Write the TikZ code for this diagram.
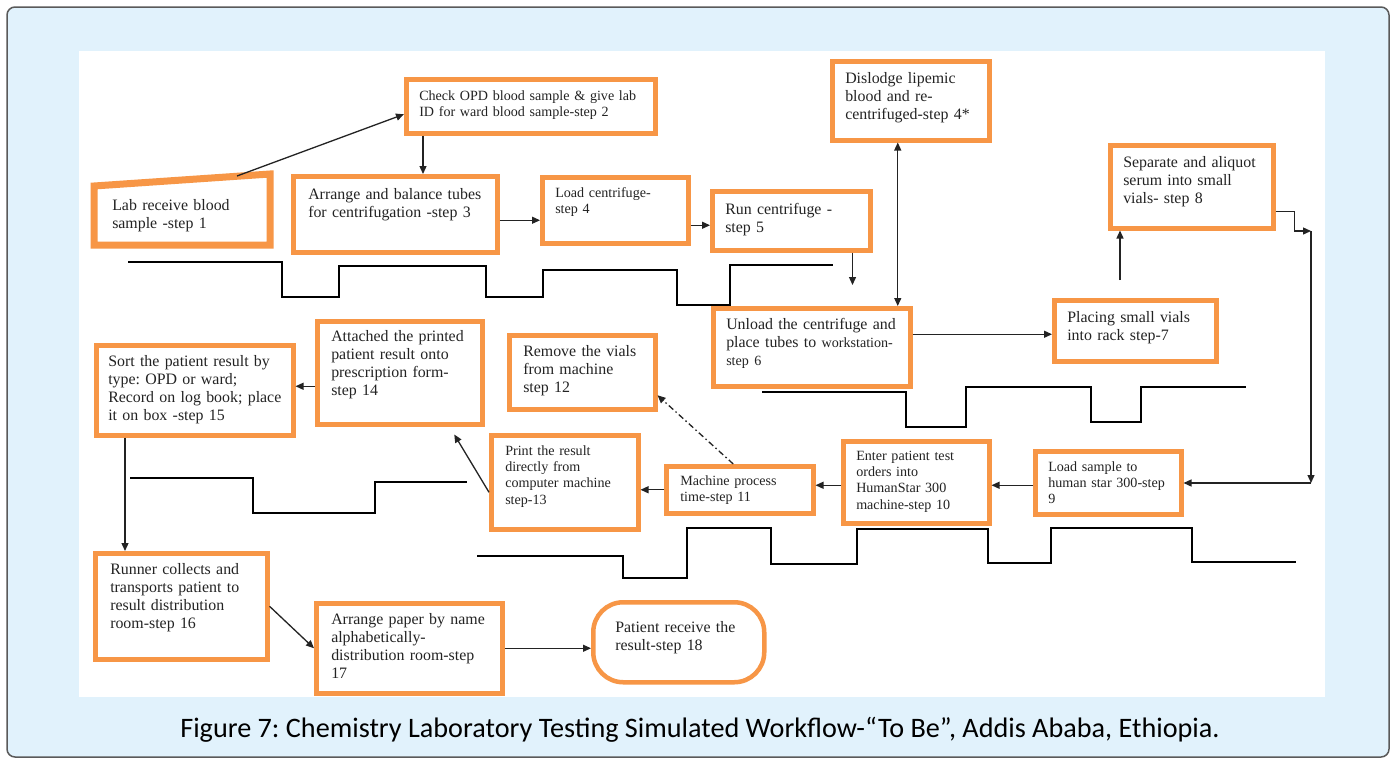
\documentclass[tikz,border=0pt]{standalone}
\usepackage{fontspec}
\setmainfont{Liberation Serif}
\newfontfamily\capfont{Carlito}
\usetikzlibrary{arrows.meta, calc}
\frenchspacing

\definecolor{boxorange}{RGB}{247,150,70}
\definecolor{panelblue}{RGB}{225,242,252}
\definecolor{framegray}{RGB}{90,90,90}
\definecolor{inkgray}{RGB}{35,35,35}

\newcommand{\normaltxt}{\fontsize{15.9}{18.2}\selectfont}
\newcommand{\smalltxt}{\fontsize{14.1}{16.3}\selectfont}

\begin{document}
\begin{tikzpicture}[
    x=1pt, y=-1pt,
    >={Triangle[length=8pt,width=7pt]},
    stepbox/.style={
        draw=boxorange, line width=4.5pt, fill=white,
        anchor=north west, align=left,
        inner xsep=13pt, inner ysep=0pt, text height=21pt,
        font=\normaltxt, text=inkgray
    },
    smallbox/.style={stepbox, font=\smalltxt},
    arrow/.style={->, line width=1.3pt, draw=inkgray},
    wave/.style={line width=1.3pt, draw=black}
]
\useasboundingbox (0,0) rectangle (1392,764);

% Page background and white panel
\fill[white] (0,0) rectangle (1392,764);
\draw[framegray, line width=1.5pt, fill=panelblue, rounded corners=8pt] (7,7) rectangle (1389,757);
\fill[white] (79,51) rectangle (1325,697);

% Steps, top row
\node[stepbox, draw=none, inner xsep=16pt, text width=139.5pt, text height=28pt, text depth=32.5pt] (s1) at (94,180) {Lab receive blood\\sample -step 1};
\draw[boxorange, line width=7pt] (s1.south west) -- ([yshift=-6pt]s1.north west) -- ([yshift=6pt]s1.north east) -- (s1.south east) -- cycle;
\node[smallbox, text width=223pt, text depth=33pt] (s2) at (404,77) {Check OPD blood sample \& give lab\\ID for ward blood sample-step 2};
\node[stepbox, inner xsep=15pt, text width=174pt, text height=23pt, text depth=53pt] (s3) at (291,174) {Arrange and balance tubes\\for centrifugation -step 3};
\node[smallbox, text width=120pt, text height=20pt, text depth=46pt] (s4) at (540,175) {Load centrifuge-\\step 4};
\node[stepbox, text width=132pt, text height=23pt, text depth=36pt] (s5) at (710,189) {Run centrifuge -\\step 5};
\node[stepbox, text width=131pt, text height=22pt, text depth=57pt] (s4s) at (830,59) {Dislodge lipemic\\blood and re-\\centrifuged-step 4*};
\node[stepbox, text width=137pt, text height=22pt, text depth=61pt] (s8) at (1108,143) {Separate and aliquot\\serum into small\\vials- step 8};

% Steps, middle rows
\node[stepbox, text width=171pt, text depth=57pt] (s6) at (711,306) {Unload the centrifuge and\\place tubes to {\smalltxt workstation-}\\{\smalltxt step 6}};
\node[stepbox, text width=136pt, text height=22pt, text depth=39pt] (s7) at (1052,298) {Placing small vials\\into rack step-7};
\node[smallbox, text width=120pt, text height=20pt, text depth=43pt] (s9) at (1033,449) {Load sample to\\human star 300-step\\9};
\node[smallbox, text width=120pt, text height=19pt, text depth=63pt] (s10) at (841,439) {Enter patient test\\orders into\\HumanStar 300\\machine-step 10};
\node[smallbox, inner xsep=14pt, text width=119pt, text height=19pt, text depth=28pt] (s11) at (664,464) {Machine process\\time-step 11};
\node[stepbox, inner xsep=14pt, text width=118pt, text depth=53pt] (s12) at (507,333) {Remove the vials\\from machine\\step 12};
\node[smallbox, inner xsep=14pt, text width=119pt, text height=20pt, text depth=74pt] (s13) at (489,433) {Print the result\\directly from\\computer machine\\step-13};
\node[stepbox, inner xsep=14pt, text width=137pt, text height=20pt, text depth=83pt] (s14) at (315,319) {Attached the printed\\patient result onto\\prescription form-\\step 14};
\node[stepbox, inner xsep=12pt, text width=173pt, text depth=69pt] (s15) at (94,343) {Sort the patient result by\\type: OPD or ward;\\\mbox{Record on log book; place}\\it on box -step 15};

% Steps, bottom row
\node[stepbox, inner xsep=15pt, text width=142pt, text depth=85pt] (s16) at (93,551) {Runner collects and\\transports patient to\\result distribution\\room-step 16};
\node[stepbox, inner xsep=15pt, text width=156pt, text depth=69pt] (s17) at (314,601) {Arrange paper by name\\alphabetically-\\distribution room-step\\17};
\node[stepbox, rounded corners=30pt, inner xsep=22pt, text width=127pt, text height=30pt, text depth=50pt] (s18) at (591,600) {Patient receive the\\result-step 18};

% Connectors
\coordinate (c8) at (1311,231);
\coordinate (c9) at (1311,483);
\draw[arrow] ([xshift=-33pt,yshift=4pt]s1.north east) -- ([yshift=-8pt]s2.west);
\draw[arrow] ([xshift=19pt]s2.south west) -- ([xshift=19pt]s2.south west |- s3.north);
\draw[arrow] ([yshift=-6pt]s3.east) -- ([yshift=-6pt]s3.east -| s4.west);
\draw[arrow] ([yshift=-15pt]s4.east) -- ([yshift=-15pt]s4.east -| s5.west);
\draw[arrow, shorten >=21pt] ([xshift=-20pt]s5.south east) -- ([xshift=-20pt]s5.south east |- s6.north);
\draw[arrow, <->] ([xshift=-13pt]s4s.south) -- ([xshift=-13pt]s4s.south |- s6.north);
\draw[arrow] ([yshift=13pt]s6.east) -- ([yshift=13pt]s6.east -| s7.west);
\draw[arrow, shorten <=18pt] ([xshift=68pt]s7.north west) -- ([xshift=68pt]s7.north west |- s8.south);
\draw[arrow] ([yshift=-25pt]s8.east) -- ++(19,0) |- (c8);
\draw[arrow] (c8) -- (c9);
\draw[arrow] (c9) -- (c9 -| s9.east);
\draw[arrow] ([yshift=-2.5pt]s9.west) -- ([yshift=-2.5pt]s9.west -| s10.east);
\draw[arrow] ([yshift=-3pt]s10.west) -- ([yshift=-3pt]s10.west -| s11.east);
\draw[arrow] (s11.west) -- (s11.west -| s13.east);
\draw[arrow, dash pattern=on 6pt off 3pt on 1.5pt off 3pt] ([xshift=-6.5pt]s11.north) -- ([yshift=-23pt]s12.east);
\draw[arrow] ([yshift=-10pt]s13.west) -- ([xshift=54.5pt,yshift=-8pt]s14.south);
\draw[arrow] ([yshift=-13.5pt]s14.west) -- ([yshift=-13.5pt]s14.west -| s15.east);
\draw[arrow] ([xshift=31pt]s15.south west) -- ([xshift=31pt]s15.south west |- s16.north);
\draw[arrow] (s16.east) -- (s17.west);
\draw[arrow] (s17.east) -- (s17.east -| s18.west);

% Waiting lines
\draw[wave] (128,262) -| (282,297) -| (339,266) -| (486,297) -| (543,270) -| (677,305) -| (730,265) -- (833,265);
\draw[wave] (762,392) -| (906,427) -| (966,387) -| (1091,422) -| (1141,387) -- (1246,387);
\draw[wave] (130,478) -| (253,513) -| (375,482) -- (467,482);
\draw[wave] (477,556) -| (623,578) -| (687,528) -| (771,564) -| (857,529) -| (988,563) -| (1051,528) -| (1192,562) -- (1296,562);

% Caption
\node[anchor=base, font=\capfont\fontsize{28.2}{32}\selectfont, text=black] (cap) at (700,737) {Figure 7: Chemistry Laboratory Testing Simulated Workflow-“To Be”, Addis Ababa, Ethiopia.};
\end{tikzpicture}
\end{document}
